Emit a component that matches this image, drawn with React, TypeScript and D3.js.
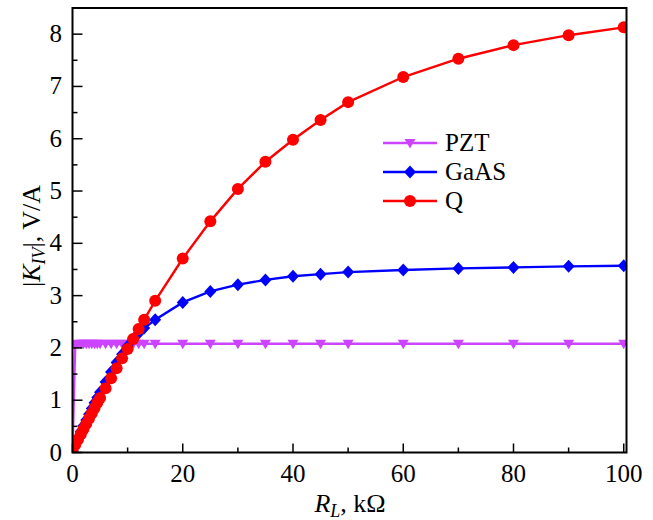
import React from "react";
import * as d3 from "d3";

// ---- data ----
const xs = [0, 0.5, 1, 1.5, 2, 2.5, 3, 3.5, 4, 4.5, 5, 6, 7, 8, 9, 10, 11, 12, 13, 15, 20, 25, 30, 35, 40, 45, 50, 60, 70, 80, 90, 100];
const pztValues = [0, 2.07, 2.08, 2.08, 2.08, 2.08, 2.08, 2.08, 2.08, 2.08, 2.08, 2.08, 2.08, 2.08, 2.08, 2.08, 2.08, 2.08, 2.08, 2.08, 2.08, 2.08, 2.08, 2.08, 2.08, 2.08, 2.08, 2.08, 2.08, 2.08, 2.08, 2.08];
const gaasValues = [0.03, 0.16, 0.28, 0.4, 0.51, 0.62, 0.73, 0.84, 0.95, 1.05, 1.15, 1.35, 1.54, 1.72, 1.88, 2.03, 2.17, 2.28, 2.38, 2.54, 2.87, 3.08, 3.21, 3.3, 3.37, 3.41, 3.45, 3.49, 3.52, 3.54, 3.56, 3.57];
const qValues = [0.03, 0.15, 0.25, 0.35, 0.45, 0.55, 0.65, 0.75, 0.85, 0.95, 1.04, 1.23, 1.42, 1.61, 1.8, 1.98, 2.17, 2.36, 2.54, 2.9, 3.71, 4.42, 5.04, 5.56, 5.98, 6.36, 6.7, 7.18, 7.53, 7.79, 7.98, 8.13];
const seriesNames = ["PZT", "GaAS", "Q"];
const seriesColors = ["#cc44ff", "#0000ff", "#ff0000"];
const xTicks = [0, 20, 40, 60, 80, 100];
const xMinorTicks = [10, 30, 50, 70, 90];
const yTicks = [0, 1, 2, 3, 4, 5, 6, 7, 8];
const yMinorTicks = [0.5, 1.5, 2.5, 3.5, 4.5, 5.5, 6.5, 7.5];

const W = 653;
const H = 520;
const L = 72.5, R = 626.5, T = 8, B = 452.5;
const FONT = "'Liberation Serif', 'Times New Roman', serif";

const x = d3.scaleLinear().domain([0, 100.5]).range([L, R]);
const y = d3.scaleLinear().domain([0, 8.5]).range([B, T]);

const marker = (kind: string, cx: number, cy: number, color: string, key: any) => {
  if (kind === "tri") {
    const p = `M${cx - 5.5},${cy - 4}L${cx + 5.5},${cy - 4}L${cx},${cy + 5.5}Z`;
    return <path key={key} d={p} fill={color} />;
  }
  if (kind === "dia") {
    const p = `M${cx},${cy - 6.5}L${cx + 6},${cy}L${cx},${cy + 6.5}L${cx - 6},${cy}Z`;
    return <path key={key} d={p} fill={color} />;
  }
  return <circle key={key} cx={cx} cy={cy} r={6} fill={color} />;
};

export default function App() {
  const series = [pztValues, gaasValues, qValues];
  const kinds = ["tri", "dia", "circ"];
  const line = d3
    .line<number>()
    .x((_, i) => x(xs[i]))
    .y((d) => y(d));
  const legendY = [143, 172, 201];
  return (
    <svg width={W} height={H} style={{ position: "absolute", left: 0, top: 0, background: "#fff" }}>
      <defs>
        <clipPath id="plot">
          <rect x={L} y={T} width={R - L} height={B - T} />
        </clipPath>
      </defs>
      <g clipPath="url(#plot)">
        {series.map((vals, si) => (
          <g key={si}>
            <path d={line(vals) || ""} fill="none" stroke={seriesColors[si]} strokeWidth={2.4} />
            {vals.map((v, i) => marker(kinds[si], x(xs[i]), y(v), seriesColors[si], i))}
          </g>
        ))}
      </g>
      {/* axes box */}
      <rect x={L} y={T} width={R - L} height={B - T} fill="none" stroke="#000" strokeWidth={2} />
      {xTicks.map((t) => (
        <g key={"xt" + t}>
          <line x1={x(t)} x2={x(t)} y1={B} y2={B - 9} stroke="#000" strokeWidth={1.5} />
          <text x={x(t)} y={482} textAnchor="middle" fontFamily={FONT} fontSize={25}>
            {t}
          </text>
        </g>
      ))}
      {xMinorTicks.map((t) => (
        <line key={"xm" + t} x1={x(t)} x2={x(t)} y1={B} y2={B - 5} stroke="#000" strokeWidth={1.5} />
      ))}
      {yTicks.map((t) => (
        <g key={"yt" + t}>
          <line x1={L} x2={L + 10} y1={y(t)} y2={y(t)} stroke="#000" strokeWidth={1.5} />
          <text x={62} y={y(t) + 8} textAnchor="end" fontFamily={FONT} fontSize={25}>
            {t}
          </text>
        </g>
      ))}
      {yMinorTicks.map((t) => (
        <line key={"ym" + t} x1={L} x2={L + 5} y1={y(t)} y2={y(t)} stroke="#000" strokeWidth={1.5} />
      ))}
      {/* axis titles */}
      <text x={350} y={512} textAnchor="middle" fontFamily={FONT} fontSize={26}>
        <tspan fontStyle="italic">R</tspan>
        <tspan fontStyle="italic" fontSize={18} dy={5}>L</tspan>
        <tspan dy={-5}>, kΩ</tspan>
      </text>
      <text
        transform={`translate(40,236) rotate(-90)`}
        textAnchor="middle"
        fontFamily={FONT}
        fontSize={26}
      >
        <tspan>|</tspan>
        <tspan fontStyle="italic">K</tspan>
        <tspan fontStyle="italic" fontSize={18} dy={5}>IV</tspan>
        <tspan dy={-5}>|, V/A</tspan>
      </text>
      {/* legend */}
      {seriesNames.map((n, i) => (
        <g key={n}>
          <line x1={383} x2={437} y1={legendY[i]} y2={legendY[i]} stroke={seriesColors[i]} strokeWidth={2.4} />
          {marker(kinds[i], 410, legendY[i], seriesColors[i], "m")}
          <text x={445} y={legendY[i] + 8} fontFamily={FONT} fontSize={25}>
            {n}
          </text>
        </g>
      ))}
    </svg>
  );
}
